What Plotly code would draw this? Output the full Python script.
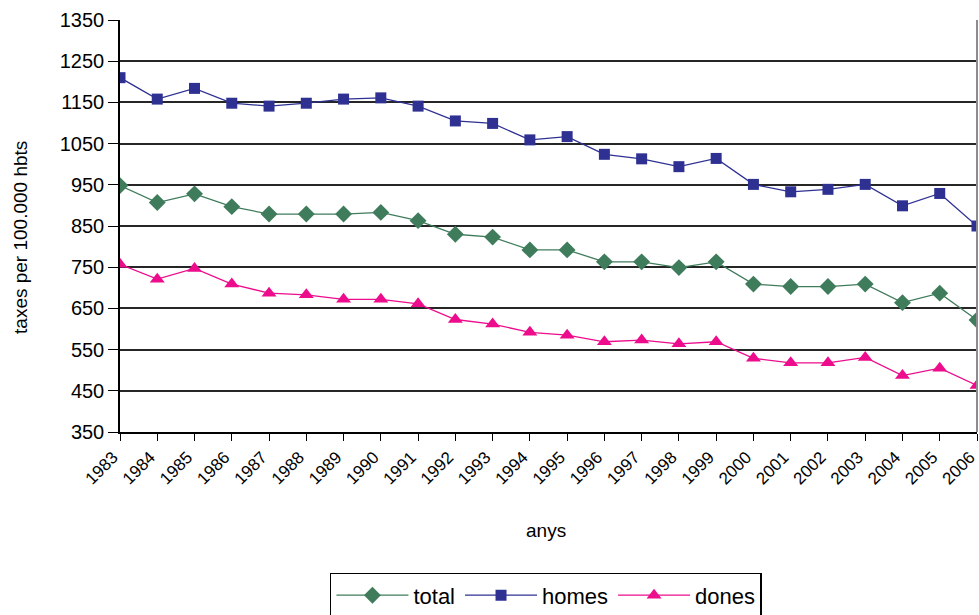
import plotly.graph_objects as go

# Annual rates per 100,000 inhabitants
years = list(range(1983, 2007))
total = [948, 907, 928, 897, 879, 879, 879, 883, 863, 830, 823, 792, 792, 763,
         763, 749, 763, 709, 703, 703, 709, 664, 687, 622]
homes = [1210, 1158, 1184, 1148, 1141, 1148, 1158, 1161, 1141, 1105, 1099, 1059,
         1067, 1024, 1013, 994, 1014, 951, 933, 939, 951, 899, 929, 850]
dones = [757, 721, 747, 709, 687, 683, 672, 672, 661, 623, 612, 592, 585, 569,
         573, 564, 569, 529, 518, 518, 531, 487, 505, 463]

y_ticks = list(range(350, 1351, 100))

FONT = "Liberation Sans, Arial, sans-serif"

fig = go.Figure()
fig.add_trace(go.Scatter(
    x=years, y=total, name="total", mode="lines+markers",
    line=dict(color="#3f7c5c", width=1.3),
    marker=dict(symbol="diamond", size=13, color="#3f7c5c"),
))
fig.add_trace(go.Scatter(
    x=years, y=homes, name="homes", mode="lines+markers",
    line=dict(color="#2e3192", width=1.3),
    marker=dict(symbol="square", size=11, color="#2e3192"),
))
fig.add_trace(go.Scatter(
    x=years, y=dones, name="dones", mode="lines+markers",
    line=dict(color="#ec0c8c", width=1.3),
    marker=dict(symbol="triangle-up", size=13, color="#ec0c8c"),
))

fig.update_layout(
    width=979, height=615,
    margin=dict(l=120, r=2, t=20, b=183, autoexpand=False),
    paper_bgcolor="white", plot_bgcolor="white",
    font=dict(family=FONT, size=16, color="black"),
    showlegend=True,
    legend=dict(
        orientation="h", x=0.497, xanchor="center", y=-0.342, yanchor="top",
        bordercolor="black", borderwidth=1.5, bgcolor="white",
        font=dict(family=FONT, size=22), traceorder="normal",
        itemwidth=72,
    ),
    xaxis=dict(
        range=[1983, 2006], tickvals=years, ticktext=[str(y) for y in years],
        ticklabeloverflow="allow", automargin=False, ticklabelshift=-7,
        tickangle=-45, ticks="outside", ticklen=7, tickcolor="black",
        showline=True, linecolor="black", linewidth=1.5,
        showgrid=False, zeroline=False, mirror=False,
        tickfont=dict(family=FONT, size=17),
    ),
    yaxis=dict(
        range=[350, 1350], tickvals=y_ticks, automargin=False,
        ticks="outside", ticklen=10, tickcolor="black",
        showline=True, linecolor="black", linewidth=1.5,
        showgrid=True, gridcolor="#262626", gridwidth=1.5,
        zeroline=False,
        tickfont=dict(family=FONT, size=20),
    ),
    annotations=[
        dict(text="taxes per 100.000 hbts", textangle=-90,
             xref="paper", yref="paper", x=-0.1155, y=0.471,
             xanchor="center", yanchor="middle", showarrow=False,
             font=dict(family=FONT, size=19)),
        dict(text="anys", xref="paper", yref="paper", x=0.497, y=-0.238,
             xanchor="center", yanchor="middle", showarrow=False,
             font=dict(family=FONT, size=19)),
    ],
)

# Grey right border of the plot area
fig.add_shape(type="line", xref="paper", yref="paper", x0=1, x1=1, y0=0, y1=1,
              line=dict(color="#8c8c8c", width=2))

fig.write_html("out.html")
